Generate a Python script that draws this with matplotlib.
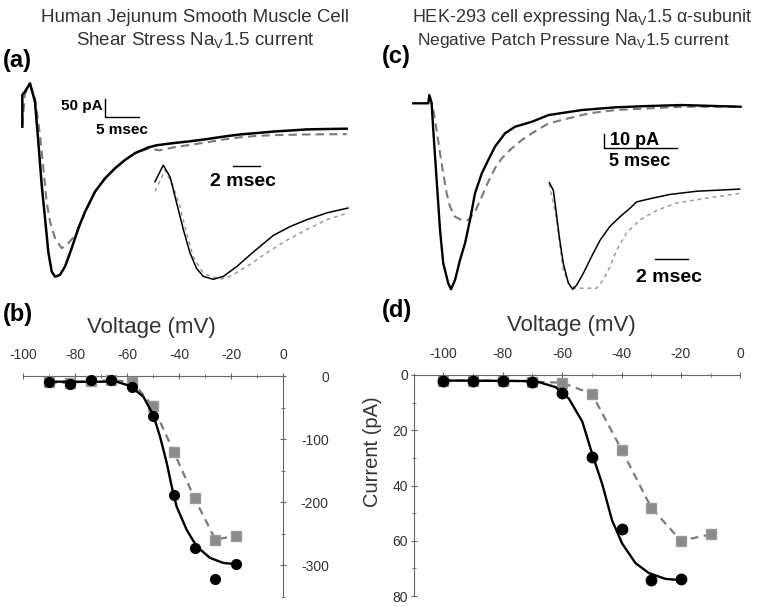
import numpy as np
import matplotlib
matplotlib.use('Agg')
import matplotlib.pyplot as plt

plt.rcParams['font.family'] = ['Liberation Sans', 'DejaVu Sans']
plt.rcParams['mathtext.fontset'] = 'custom'
plt.rcParams['mathtext.rm'] = 'Liberation Sans'
plt.rcParams['axes.unicode_minus'] = False

W, H = 764, 606

# ---- (a) jejunum smooth muscle current traces (ms, pA) ----
t_a_ctrl = [-0.1, -0.1, 0.29, 1.03, 1.76, 2.25, 2.75, 3.24, 3.72, 4.22, 4.71, 5.44, 6.18, 7.16,
            8.13, 9.12, 10.59, 12.06, 13.53, 15.0, 16.47, 18.43, 19.66, 22.1, 24.56, 27.0,
            29.46, 31.9, 34.4, 36.8, 39.3, 41.7, 44.1, 47.6]
i_a_ctrl = [5.6, 94, 103, 126, 75, -36, -156, -249, -342, -397, -411, -406, -383, -332,
            -277, -231, -175, -138, -110, -87, -68, -52, -46, -40, -35, -29,
            -22, -16, -12, -8, -5, -2, -1, 0]
t_a_shear = [-0.1, 0.29, 1.03, 1.76, 2.5, 2.99, 3.48, 3.97, 4.71, 5.69, 6.67, 7.9, 9.12,
             10.59, 12.06, 13.53, 15.0, 16.47, 18.43, 20.1, 22.1, 24.56, 27.0, 29.46,
             31.9, 34.4, 36.8, 41.7, 47.6]
i_a_shear = [10, 98, 121, 84, -18, -110, -203, -258, -304, -332, -318, -291, -231,
             -175, -138, -110, -87, -68, -55, -60, -52, -45, -38, -30,
             -24, -20, -18, -16, -15]
# inset (normalised current)
t_ai_ctrl = [0, 0.62, 1.13, 1.63, 2.13, 2.63, 3.13, 3.63, 4.38, 5.14, 6.14, 7.39, 8.9,
             10.15, 11.4, 12.9, 14.5]
i_ai_ctrl = [0, 0.17, 0.05, -0.22, -0.49, -0.73, -0.89, -0.97, -1.0, -0.97, -0.87, -0.72,
             -0.55, -0.46, -0.39, -0.32, -0.27]
t_ai_shear = [0, 0.75, 1.38, 1.88, 2.38, 2.88, 3.63, 4.89, 5.64, 6.89, 8.39, 9.9, 11.4,
              12.9, 14.5]
i_ai_shear = [-0.10, 0.12, -0.05, -0.26, -0.53, -0.77, -0.94, -1.0, -0.97, -0.87, -0.73,
              -0.60, -0.49, -0.39, -0.32]

# ---- (c) HEK-293 current traces (ms, pA) ----
t_c_ctrl = [-1.07, -0.05, 0.02, 0.18, 0.29, 0.52, 0.75, 0.97, 1.31, 1.5, 1.77, 2.11, 2.45,
            2.79, 3.13, 3.59, 4.03, 4.49, 5.17, 5.85, 7.0, 8.14, 10.4, 12.7, 14.9, 17.2, 21.2]
i_c_ctrl = [0, 0, 5.8, 0, -18.7, -53.6, -88.6, -111.9, -125.9, -130, -123.6, -109.6, -97.9,
            -81.6, -62.9, -49, -39.7, -30.3, -21, -16.4, -12.9, -8.2, -4.7, -2.8, -1.9, -1.2, -2.4]
t_c_press = [0.07, 0.29, 0.52, 0.75, 0.97, 1.2, 1.43, 1.77, 2.22, 2.67, 3.13, 3.59, 4.03,
             4.49, 4.95, 5.63, 6.31, 6.99, 8.14, 9.5, 10.9, 12.7, 17.2, 21.2]
i_c_press = [4.6, -4.7, -18.7, -35, -49, -63, -72.3, -79.3, -81.6, -81.6, -75.8, -65.3,
             -54.8, -45.5, -38.5, -31.5, -25.7, -21, -14, -10.5, -7, -4.7, -2.4, -2.4]
t_ci_ctrl = [0, 0.24, 0.4, 0.6, 0.84, 1.14, 1.4, 1.64, 2.04, 2.54, 3.04, 3.63, 4.23, 4.83,
             5.23, 6.03, 7.23, 8.83, 11.4]
i_ci_ctrl = [0, -0.07, -0.26, -0.51, -0.76, -0.94, -1.0, -0.96, -0.85, -0.69, -0.54, -0.41,
             -0.32, -0.24, -0.18, -0.15, -0.11, -0.08, -0.06]
t_ci_press = [0, 0.44, 0.64, 0.84, 1.14, 1.54, 2.04, 2.84, 3.23, 3.63, 4.04, 4.63, 5.43,
              6.43, 7.63, 9.23, 11.4]
i_ci_press = [-0.01, -0.35, -0.60, -0.82, -0.94, -0.99, -0.99, -0.99, -0.91, -0.79, -0.63,
              -0.47, -0.35, -0.26, -0.19, -0.15, -0.10]

# ---- (b) I-V, smooth muscle ----
v_b = [-90, -82, -74, -66, -58, -50, -42, -34, -26, -18]
i_b_ctrl = [-10, -12, -6, -6, -18, -64, -188, -272, -322, -297]
i_b_shear = [-10, -11, -8, -7, -9, -48, -120, -194, -259, -253]
fit_v_b = [-90, -64, -58.8, -53.7, -49.9, -47.3, -44.7, -42.8, -40.9, -37.0, -33.2, -28.1, -23.0, -18.0]
fit_i_b = [-9, -9, -15.8, -32.8, -61.7, -96, -138, -175, -207, -244, -270, -288, -296, -298]

# ---- (d) I-V, HEK-293 ----
v_d_ctrl = [-100, -90, -80, -70, -60, -50, -40, -30, -20]
i_d_ctrl = [2, 2, 2, 2.4, 6.5, 29.6, 55.6, 74.3, 74]
v_d_press = [-100, -90, -80, -70, -60, -50, -40, -30, -20, -10]
i_d_press = [2, 2, 2, 2.4, 2.8, 6.8, 27, 48, 60, 57.7]
fit_v_d = [-100, -70, -67.8, -62.2, -57.7, -53.2, -49.9, -46.5, -43.2, -39.8, -35.3, -30.8, -25.2, -19.6]
fit_i_d = [2, 2.2, 2.6, 4.4, 8.6, 16.9, 28.5, 39.5, 52.6, 61, 68.1, 71.7, 73.8, 74.3]

fig = plt.figure(figsize=(W / 100, H / 100), dpi=100)


def px_axes(x0, y0, x1, y1):
    return fig.add_axes([x0 / W, 1 - y1 / H, (x1 - x0) / W, (y1 - y0) / H])


def ftext(x, y, s, **kw):
    fig.text(x / W, 1 - y / H, s, **kw)


GRAY = '#7a7a7a'
LGRAY = '#9a9a9a'

# ---- panel (a) ----
ax = px_axes(10, 70, 360, 290)
ax.set_xlim(-1.912, 49.56)
ax.set_ylim(-448.1, 163.1)
ax.axis('off')
ax.plot(t_a_shear, i_a_shear, color=GRAY, lw=1.5, dashes=(4, 2.5))
ax.plot(t_a_ctrl, i_a_ctrl, color='k', lw=1.8)
ax.plot([12.06, 12.06, 17.06], [82.5, 32.5, 32.5], color='k', lw=1.0)
ax.text(11.7, 62, '50 pA', ha='right', va='center', fontsize=11, fontweight='bold')
ax.text(14.5, -3.6, '5 msec', ha='center', va='center', fontsize=11, fontweight='bold')

ax = px_axes(150, 155, 360, 290)
ax.set_xlim(-0.376, 15.41)
ax.set_ylim(-1.1096, 0.2736)
ax.axis('off')
ax.plot(t_ai_shear, i_ai_shear, color=LGRAY, lw=1.1, dashes=(2.5, 2.5))
ax.plot(t_ai_ctrl, i_ai_ctrl, color='k', lw=1.1)
ax.plot([5.86, 7.86], [0.161, 0.161], color='k', lw=1.0)
ax.text(6.58, 0.0, '2 msec', ha='center', va='center', fontsize=14, fontweight='bold')

# ---- panel (c) ----
ax = px_axes(400, 70, 760, 300)
ax.set_xlim(-1.973, 22.52)
ax.set_ylim(-137.55, 23.29)
ax.axis('off')
ax.plot(t_c_press, i_c_press, color=GRAY, lw=1.5, dashes=(4, 2.5))
ax.plot(t_c_ctrl, i_c_ctrl, color='k', lw=1.7)
ax.plot([11.88, 11.88, 16.88], [-21.26, -31.26, -31.26], color='k', lw=1.0)
ax.text(12.3, -25.9, '10 pA', ha='left', va='center', fontsize=13, fontweight='bold')
ax.text(14.32, -41.0, '5 msec', ha='center', va='center', fontsize=13, fontweight='bold')

ax = px_axes(540, 175, 760, 300)
ax.set_xlim(-0.557, 12.617)
ax.set_ylim(-1.1004, 0.0722)
ax.axis('off')
ax.plot(t_ci_press, i_ci_press, color=LGRAY, lw=1.1, dashes=(2.5, 2.5))
ax.plot(t_ci_ctrl, i_ci_ctrl, color='k', lw=1.1)
ax.plot([6.33, 8.33], [-0.716, -0.716], color='k', lw=1.0)
ax.text(7.17, -0.885, '2 msec', ha='center', va='center', fontsize=14, fontweight='bold')


def style_iv(ax):
    for s in ax.spines.values():
        s.set_color('#666666')
        s.set_linewidth(0.8)
    ax.tick_params(which='both', colors='#666666', labelcolor='#333333', labelsize=10,
                   direction='inout')
    ax.tick_params(which='major', length=4)
    ax.tick_params(which='minor', length=3)


# ---- panel (b) ----
ax = px_axes(23, 376, 283, 597)
ax.set_xlim(-100, 0)
ax.set_ylim(-350, 0)
ax.spines['left'].set_visible(False)
ax.spines['bottom'].set_visible(False)
ax.xaxis.tick_top()
ax.yaxis.tick_right()
ax.set_xticks(np.arange(-100, 1, 20))
ax.set_xticks(np.arange(-90, 0, 20), minor=True)
ax.set_yticks([0, -100, -200, -300])
ax.set_yticks([-50, -150, -250, -350], minor=True)
style_iv(ax)
ax.tick_params(axis='x', pad=8)
ax.tick_params(axis='y', pad=31)
plt.setp(ax.get_yticklabels(), ha='right')
ax.plot(v_b, i_b_shear, color=GRAY, lw=1.6, dashes=(3.5, 2.5), clip_on=False)
ax.plot(v_b, i_b_shear, ls='none', marker='s', ms=6.5, mfc='#8a8a8a', mec='#9a9a9a',
        clip_on=False, zorder=3)
ax.plot(fit_v_b, fit_i_b, color='k', lw=1.7, clip_on=False, zorder=4)
ax.plot(v_b, i_b_ctrl, ls='none', marker='o', ms=7, color='k', clip_on=False, zorder=5)

# ---- panel (d) ----
ax = px_axes(413.7, 375, 740.3, 596)
ax.set_xlim(-110, 0)
ax.set_ylim(80, 0)
ax.spines['right'].set_visible(False)
ax.spines['bottom'].set_visible(False)
ax.xaxis.tick_top()
ax.set_xticks(np.arange(-100, 1, 20))
ax.set_xticks(np.arange(-110, 0, 20), minor=True)
ax.set_yticks(np.arange(0, 81, 20))
ax.set_yticks(np.arange(10, 80, 20), minor=True)
style_iv(ax)
ax.tick_params(axis='x', pad=8)
ax.tick_params(axis='y', pad=2)
ax.plot(v_d_press, i_d_press, color=GRAY, lw=1.6, dashes=(3.5, 2.5), clip_on=False)
ax.plot(v_d_press, i_d_press, ls='none', marker='s', ms=6.5, mfc='#8a8a8a', mec='#9a9a9a',
        clip_on=False, zorder=3)
ax.plot(fit_v_d, fit_i_d, color='k', lw=1.7, clip_on=False, zorder=4)
ax.plot(v_d_ctrl, i_d_ctrl, ls='none', marker='o', ms=7.5, color='k', clip_on=False, zorder=5)

# ---- text ----
TC = '#333333'
ftext(195, 18, 'Human Jejunum Smooth Muscle Cell', ha='center', va='center', fontsize=13.5, color=TC)
ftext(195, 41, r'Shear Stress Na$_\mathregular{V}$1.5 current', ha='center', va='center',
      fontsize=13.5, color=TC)
ftext(582, 18, r'HEK-293 cell expressing Na$_\mathregular{V}$1.5 α-subunit', ha='center',
      va='center', fontsize=13, color=TC)
ftext(573, 40, r'Negative Patch Pressure Na$_\mathregular{V}$1.5 current', ha='center',
      va='center', fontsize=12.5, color=TC)
ftext(3, 61, '(a)', ha='left', va='center', fontsize=17, fontweight='bold')
ftext(382, 57, '(c)', ha='left', va='center', fontsize=17, fontweight='bold')
ftext(3, 314, '(b)', ha='left', va='center', fontsize=17, fontweight='bold')
ftext(382, 310, '(d)', ha='left', va='center', fontsize=17, fontweight='bold')
ftext(151, 327, 'Voltage (mV)', ha='center', va='center', fontsize=16, color=TC)
ftext(571, 325, 'Voltage (mV)', ha='center', va='center', fontsize=16, color=TC)
ftext(372, 452, 'Current (pA)', ha='center', va='center', fontsize=14.5, color=TC, rotation=90)

fig.savefig('out.png', dpi=100)
